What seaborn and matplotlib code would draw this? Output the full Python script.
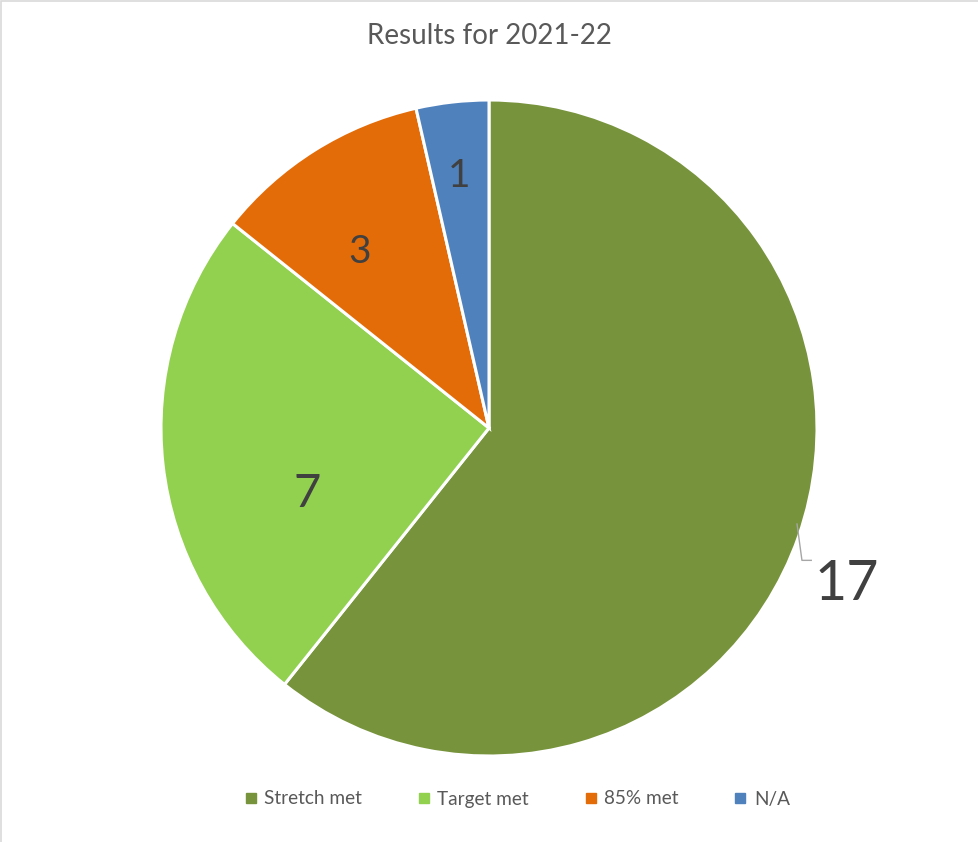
import numpy as np
import matplotlib
matplotlib.use("Agg")
import matplotlib.pyplot as plt
import seaborn as sns
from matplotlib.lines import Line2D

sns.set_theme(style="white")
plt.rcParams["font.family"] = ["Lato", "DejaVu Sans"]

# Data
categories = ["Stretch met", "Target met", "85% met", "N/A"]
counts = [17, 7, 3, 1]
colors = ["#77933C", "#92D050", "#E36C09", "#4F81BD"]
title = "Results for 2021-22"

W, H = 979, 842
fig = plt.figure(figsize=(W / 100, H / 100), dpi=100)
fig.patch.set_facecolor("white")
ax = fig.add_axes([0, 0, 1, 1])

cx, cy, r = 489, H - 428, 328
wedges, _ = ax.pie(
    counts,
    colors=colors,
    startangle=90,
    counterclock=False,
    center=(cx, cy),
    radius=r,
    wedgeprops=dict(edgecolor="white", linewidth=2.2),
    frame=True,
)
ax.set_xlim(0, W)
ax.set_ylim(0, H)
ax.set_aspect("auto")
ax.axis("off")

# Data labels: (angle offset from wedge middle in degrees, distance in radii, size)
label_style = [(-4.4, 1.19, 40), (13.6, 0.59, 34), (4.1, 0.665, 28), (0.4, 0.775, 28)]
for w, n, (dang, dist, fs) in zip(wedges, counts, label_style):
    mid = np.deg2rad((w.theta1 + w.theta2) / 2 + dang)
    x, y = cx + dist * r * np.cos(mid), cy + dist * r * np.sin(mid)
    ax.text(x, y, str(n), ha="center", va="center", fontsize=fs, color="#404040")

# Leader line for the outside label
ang = np.deg2rad(-18.0)
x0, y0 = cx + r * np.cos(ang) - 3, cy + r * np.sin(ang)
ax.plot([x0 - 1, x0 + 4, x0 + 14], [y0 + 6, y0 - 31, y0 - 31],
        color="#A6A6A6", lw=1.0, solid_capstyle="butt")

ax.text(W / 2, H - 36, title, ha="center", va="center", fontsize=20, color="#595959")

handles = [Line2D([0], [0], marker="s", linestyle="none", markersize=6.5,
                  markerfacecolor=c, markeredgecolor=c) for c in colors]
fig.legend(handles, categories, loc="center", bbox_to_anchor=(518 / W, 1 - 799 / H),
           ncol=4, frameon=False, fontsize=13.7, labelcolor="#595959",
           handlelength=0.5, handletextpad=0.45, columnspacing=3.0)

# Chart border
fig.add_artist(plt.Rectangle((1 / W, -0.01), 1.2, 1.0 - 1.5 / H + 0.01,
                             transform=fig.transFigure, fill=False,
                             edgecolor="#D9D9D9", lw=1.2))

fig.savefig("out.png", dpi=100, facecolor="white")
